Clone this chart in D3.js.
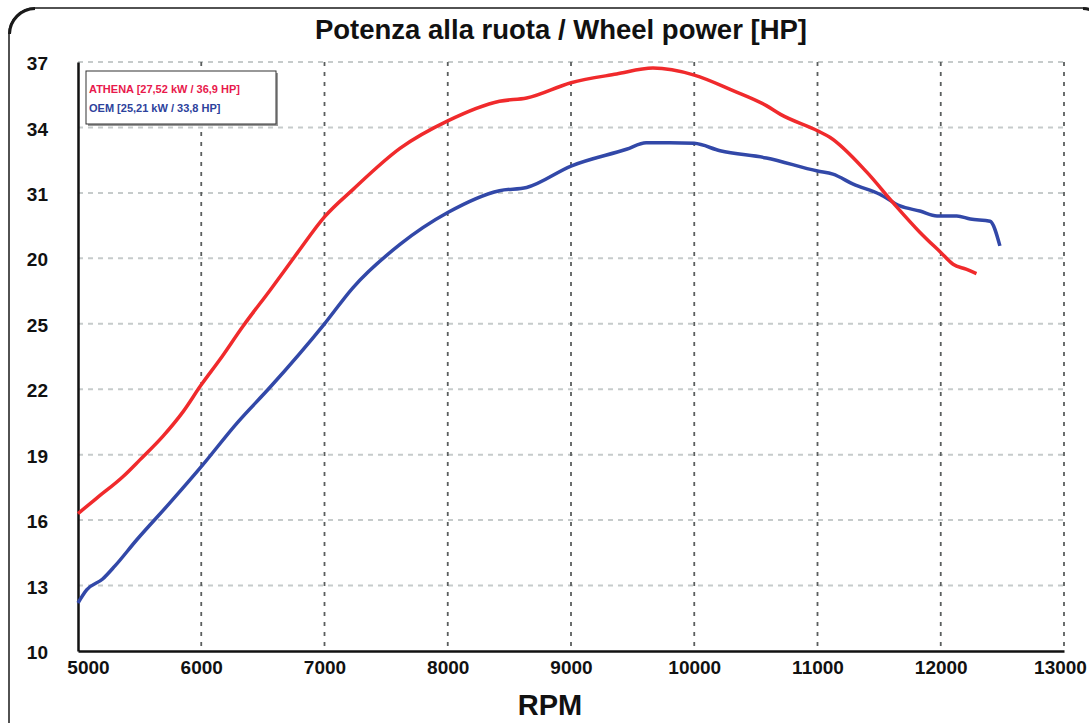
<!DOCTYPE html>
<html>
<head>
<meta charset="utf-8">
<script src="https://cdn.jsdelivr.net/npm/d3@7"></script>
<style>
  body { margin: 0; background: #fff; }
  svg { display: block; font-family: "Liberation Sans", Arial, sans-serif; }
  .tick text { font-weight: bold; fill: #111; }
</style>
</head>
<body>
<script>
// rpm / hp readings
var athenaRpm = [5000, 5150, 5366, 5500, 5690, 5850, 6000, 6150, 6340, 6560, 6780, 7000, 7230, 7615, 8000, 8420, 8640, 9000, 9370, 9665, 10000, 10310, 10585, 10700, 11000, 11100, 11400, 11610, 11830, 12000, 12100, 12205, 12290];
var athenaHp  = [16.3, 17.0, 18.0, 18.75, 19.85, 20.95, 22.2, 23.35, 24.9, 26.55, 28.25, 29.9, 31.15, 33.05, 34.3, 35.2, 35.35, 36.05, 36.45, 36.72, 36.4, 35.7, 35.0, 34.6, 33.85, 33.55, 31.95, 30.57, 29.2, 28.27, 27.73, 27.5, 27.3];

var oemRpm = [5000, 5070, 5200, 5300, 5477, 5747, 6000, 6290, 6560, 7000, 7230, 7615, 8000, 8420, 8640, 9000, 9450, 9610, 9800, 10000, 10210, 10585, 11000, 11125, 11290, 11505, 11670, 11830, 11970, 12130, 12240, 12400, 12480];
var oemHp  = [12.2, 12.8, 13.3, 13.9, 15.1, 16.8, 18.45, 20.45, 22.1, 25.0, 26.65, 28.65, 30.1, 31.1, 31.25, 32.23, 33.0, 33.3, 33.3, 33.27, 32.93, 32.6, 32.0, 31.86, 31.4, 30.94, 30.4, 30.17, 29.94, 29.94, 29.8, 29.7, 28.57];

var xTicks = [5000, 6000, 7000, 8000, 9000, 10000, 11000, 12000, 13000];
var yTicks = [10, 13, 16, 19, 22, 25, 28, 31, 34, 37];
var yTickLabels = ["10", "13", "16", "19", "22", "25", "20", "31", "34", "37"];

var legendLabels = ["ATHENA [27,52 kW / 36,9 HP]", "OEM [25,21 kW / 33,8 HP]"];

var W = 1089, H = 723;
var margin = {top: 62, left: 78, right: 25, bottom: 72};

var svg = d3.select("body").append("svg")
    .attr("width", W)
    .attr("height", H);

// outer frame with rounded corners
svg.append("rect")
    .attr("x", 9).attr("y", 8)
    .attr("width", 1100).attr("height", 760)
    .attr("rx", 26)
    .attr("fill", "none")
    .attr("stroke", "#1a1a1a")
    .attr("stroke-width", 1.5);
svg.append("path")
    .attr("d", "M9.5,34 A26,26 0 0 1 35,8.5")
    .attr("fill", "none").attr("stroke", "#1a1a1a").attr("stroke-width", 3);
svg.append("path")
    .attr("d", "M1083,8.5 A26,26 0 0 1 1100,16")
    .attr("fill", "none").attr("stroke", "#1a1a1a").attr("stroke-width", 3);

var xScale = d3.scaleLinear()
    .domain([5000, 13000])
    .range([margin.left, W - margin.right]);

var yScale = d3.scaleLinear()
    .domain([10, 37])
    .range([H - margin.bottom, margin.top]);

//grid
svg.append("g").selectAll("line")
    .data(yTicks.slice(1))
    .enter().append("line")
    .attr("x1", xScale(5000)).attr("x2", xScale(13000))
    .attr("y1", function(d) { return yScale(d); })
    .attr("y2", function(d) { return yScale(d); })
    .attr("stroke", "#c6cbcb")
    .attr("stroke-width", 2)
    .attr("stroke-dasharray", "5,5");

svg.append("g").selectAll("line")
    .data(xTicks.slice(1))
    .enter().append("line")
    .attr("x1", function(d) { return xScale(d); })
    .attr("x2", function(d) { return xScale(d); })
    .attr("y1", yScale(37)).attr("y2", yScale(10))
    .attr("stroke", "#5a5e5e")
    .attr("stroke-width", 1.8)
    .attr("stroke-dasharray", "4,6");

//axes
var yAxis = d3.axisLeft(yScale)
    .tickValues(yTicks)
    .tickFormat(function(d, i) { return yTickLabels[i]; })
    .tickSize(0)
    .tickPadding(30);

var gy = svg.append("g")
    .attr("transform", "translate(" + margin.left + ",0)")
    .call(yAxis);
gy.select(".domain").attr("stroke", "#111").attr("stroke-width", 2.5);
gy.selectAll(".tick text").style("font-size", "19px").attr("dy", "0.4em");

var xAxis = d3.axisBottom(xScale)
    .tickValues(xTicks)
    .tickFormat(d3.format("d"))
    .tickSize(0)
    .tickPadding(10);

var gx = svg.append("g")
    .attr("transform", "translate(0," + yScale(10) + ")")
    .call(xAxis);
gx.select(".domain").attr("stroke", "#111").attr("stroke-width", 2.5);
gx.selectAll(".tick text").style("font-size", "19px");
gx.selectAll(".tick text").filter(function(d) { return d == 5000; }).attr("dx", 10);
gx.selectAll(".tick text").filter(function(d) { return d == 13000; }).attr("dx", -4);

//lines
var line = d3.line()
    .x(function(d) { return xScale(d[0]); })
    .y(function(d) { return yScale(d[1]); })
    .curve(d3.curveMonotoneX);

svg.append("path")
    .datum(oemRpm.map(function(r, i) { return [r, oemHp[i]]; }))
    .attr("d", line)
    .attr("fill", "none")
    .attr("stroke", "#3248a8")
    .attr("stroke-width", 3.5)
    .attr("stroke-linejoin", "round");

svg.append("path")
    .datum(athenaRpm.map(function(r, i) { return [r, athenaHp[i]]; }))
    .attr("d", line)
    .attr("fill", "none")
    .attr("stroke", "#f02a2c")
    .attr("stroke-width", 3.5)
    .attr("stroke-linejoin", "round");

//legend
svg.append("rect")
    .attr("x", 88).attr("y", 73)
    .attr("width", 190).attr("height", 53)
    .attr("fill", "#9a9a9a");
svg.append("rect")
    .attr("x", 86).attr("y", 71)
    .attr("width", 190).attr("height", 53)
    .attr("fill", "#fff")
    .attr("stroke", "#333")
    .attr("stroke-width", 1);

svg.selectAll("text.legend")
    .data(legendLabels)
    .enter().append("text")
    .attr("class", "legend")
    .attr("x", 89)
    .attr("y", function(d, i) { return 93 + i * 19; })
    .attr("fill", function(d, i) { return i == 0 ? "#e8194c" : "#2d429c"; })
    .style("font-size", "11px")
    .style("font-weight", "bold")
    .text(function(d) { return d; });

//title
svg.append("text")
    .attr("x", 561).attr("y", 39)
    .attr("text-anchor", "middle")
    .style("font-size", "27.5px")
    .style("font-weight", "bold")
    .attr("fill", "#111")
    .text("Potenza alla ruota / Wheel power [HP]");

svg.append("text")
    .attr("x", 550).attr("y", 715)
    .attr("text-anchor", "middle")
    .style("font-size", "29px")
    .style("font-weight", "bold")
    .attr("fill", "#111")
    .text("RPM");
</script>
</body>
</html>
